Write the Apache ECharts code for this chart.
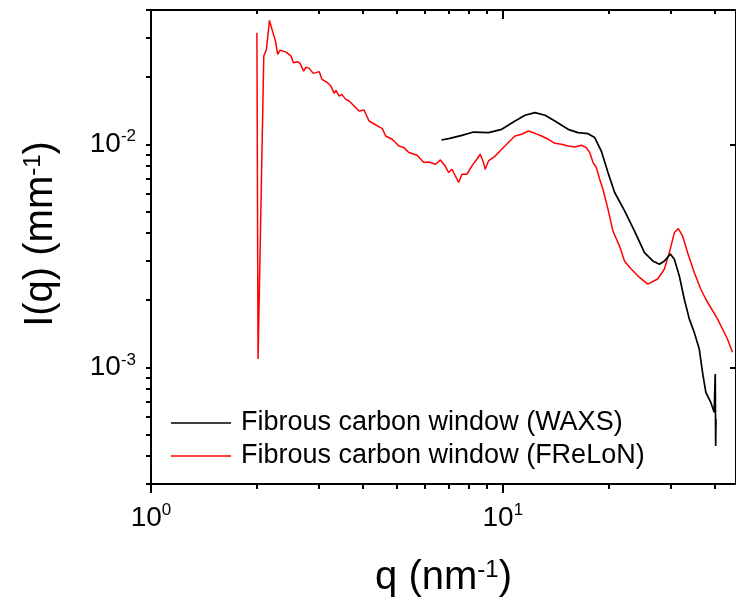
<!DOCTYPE html>
<html>
<head>
<meta charset="utf-8">
<script src="https://cdn.jsdelivr.net/npm/echarts@6/dist/echarts.min.js"></script>
<style>
html,body{margin:0;padding:0;background:#fff;}
#chart{width:736px;height:603px;}
</style>
</head>
<body>
<div id="chart"></div>
<script>
// ---- Data ----
const seriesNames = ['Fibrous carbon window (WAXS)', 'Fibrous carbon window (FReLoN)'];

const qWaxs = [6.692, 7.019, 7.652, 8.257, 9.105, 9.929, 10.83, 11.56, 12.34, 13.18, 14.06, 15.33, 16.36, 17.47, 18.25, 19.05, 19.90, 20.79, 22.19, 23.68, 25.27, 26.68, 27.87, 28.79, 29.93, 30.73, 31.74, 32.80, 33.88, 35.00, 36.17, 36.95, 37.76, 39.00, 39.87, 40.16, 40.27, 40.35];
const iWaxs = [0.01045, 0.01060, 0.01097, 0.01135, 0.01128, 0.01167, 0.01272, 0.01349, 0.01387, 0.01349, 0.01272, 0.01167, 0.01128, 0.01116, 0.01072, 0.00933, 0.00747, 0.00608, 0.00503, 0.00408, 0.00327, 0.00300, 0.00290, 0.00300, 0.00322, 0.00305, 0.00257, 0.00202, 0.00165, 0.001435, 0.001208, 0.000950, 0.000773, 0.000697, 0.000629, 0.000933, 0.000444, 0.000587];

const qFrelon = [2.000, 2.015, 2.092, 2.129, 2.171, 2.229, 2.258, 2.292, 2.328, 2.421, 2.501, 2.539, 2.611, 2.652, 2.716, 2.758, 2.818, 2.892, 3.008, 3.061, 3.175, 3.246, 3.317, 3.354, 3.426, 3.487, 3.579, 3.657, 3.903, 4.032, 4.166, 4.544, 4.645, 4.850, 5.065, 5.233, 5.407, 5.705, 5.962, 6.160, 6.435, 6.649, 6.869, 7.019, 7.170, 7.490, 7.652, 7.906, 8.166, 8.436, 8.625, 8.812, 8.910, 9.105, 9.511, 9.929, 10.37, 10.83, 11.31, 11.82, 12.34, 12.89, 13.46, 14.06, 14.68, 15.33, 16.02, 16.72, 17.28, 17.66, 18.05, 18.44, 18.85, 19.26, 19.90, 20.56, 21.47, 22.19, 23.16, 24.46, 25.82, 27.56, 28.79, 29.74, 30.73, 31.54, 32.43, 33.50, 35.00, 36.54, 37.76, 40.75, 43.49, 44.94];
const iFrelon = [0.03164, 0.001089, 0.02486, 0.02663, 0.03591, 0.03109, 0.02902, 0.02529, 0.02644, 0.02590, 0.02486, 0.02322, 0.02346, 0.02305, 0.02129, 0.02219, 0.02190, 0.02080, 0.02117, 0.01955, 0.01889, 0.01824, 0.01692, 0.01745, 0.01645, 0.01674, 0.01590, 0.01563, 0.01409, 0.01424, 0.01272, 0.01176, 0.01089, 0.01053, 0.00983, 0.00966, 0.00918, 0.00893, 0.00828, 0.00833, 0.00814, 0.00851, 0.00795, 0.00747, 0.00773, 0.00674, 0.00734, 0.00734, 0.00800, 0.00857, 0.00902, 0.00828, 0.00773, 0.00842, 0.00886, 0.00950, 0.01018, 0.01089, 0.01109, 0.01147, 0.01120, 0.01089, 0.01053, 0.01010, 0.01000, 0.00983, 0.00972, 0.00990, 0.00966, 0.00918, 0.00828, 0.00787, 0.00697, 0.00629, 0.00512, 0.00408, 0.00349, 0.00299, 0.00276, 0.00253, 0.00236, 0.00249, 0.00276, 0.00327, 0.00402, 0.00419, 0.00388, 0.00327, 0.00266, 0.00224, 0.00202, 0.00165, 0.00134, 0.00117];

const xMajorTicks = [1, 10];
const xMinorTicks = [2, 3, 4, 5, 6, 7, 8, 9, 20, 30, 40];
const yMajorTicks = [0.001, 0.01];
const yAllTicks = [0.0003, 0.0004, 0.0005, 0.0006, 0.0007, 0.0008, 0.0009, 0.001,
  0.002, 0.003, 0.004, 0.005, 0.006, 0.007, 0.008, 0.009, 0.01, 0.02, 0.03, 0.04];

const xRange = [1, 46];
const yRange = [0.0003, 0.04];

// ---- Chart ----
const FONT = '"Liberation Sans", Arial, Helvetica, sans-serif';
const pairs = (xs, ys) => xs.map((x, i) => [x, ys[i]]);
const powLabel = v => '{b|10}{s|' + Math.round(Math.log10(v)) + '}';
const tickRich = {
  b: {fontSize: 28, fontFamily: FONT, color: '#000', lineHeight: 32},
  s: {fontSize: 17, fontFamily: FONT, color: '#000', verticalAlign: 'top', lineHeight: 17}
};
const axisLineStyle = {color: '#000', width: 2};

const chart = echarts.init(document.getElementById('chart'), null, {renderer: 'canvas'});

function xAx(extra) {
  return Object.assign({
    type: 'log', logBase: 10, min: xRange[0], max: xRange[1],
    splitLine: {show: false}, minorTick: {show: false}, minorSplitLine: {show: false},
    axisLabel: {show: false}, axisLine: {show: false}
  }, extra);
}
function yAx(extra) {
  return Object.assign({
    type: 'log', logBase: 10, min: yRange[0], max: yRange[1],
    splitLine: {show: false}, minorTick: {show: false}, minorSplitLine: {show: false},
    axisLabel: {show: false}, axisLine: {show: false}
  }, extra);
}

chart.setOption({
  backgroundColor: '#fff',
  animation: false,
  grid: {left: 151, top: 10, width: 587.6, height: 475, containLabel: false},
  legend: {
    orient: 'vertical', left: 171, top: 408, padding: 0,
    icon: 'rect', itemWidth: 60, itemHeight: 1.6, itemGap: 3,
    data: seriesNames,
    formatter: n => '{a|' + n + '}',
    textStyle: {
      fontFamily: FONT, fontSize: 27, color: '#000', lineHeight: 30,
      rich: {a: {fontFamily: FONT, fontSize: 27, color: '#000', padding: [0, 0, 0, 5], lineHeight: 30}}
    }
  },
  xAxis: [
    xAx({
      position: 'bottom',
      axisLine: {show: true, onZero: false, lineStyle: axisLineStyle},
      axisTick: {show: true, inside: false, length: 9, lineStyle: {color: '#000', width: 2}, customValues: xMajorTicks},
      axisLabel: {show: true, customValues: xMajorTicks, formatter: powLabel, rich: tickRich, margin: 18},
      name: 'q (nm{s|-1})', nameLocation: 'middle', nameGap: 74,
      nameTextStyle: {fontFamily: FONT, fontSize: 40, color: '#000',
        rich: {s: {fontFamily: FONT, fontSize: 24, color: '#000', verticalAlign: 'top', lineHeight: 22}}}
    }),
    xAx({position: 'bottom',
      axisTick: {show: true, inside: false, length: 5, lineStyle: {color: '#000', width: 2}, customValues: xMinorTicks}}),
    xAx({position: 'top',
      axisLine: {show: true, onZero: false, lineStyle: axisLineStyle},
      axisTick: {show: true, inside: true, length: 9, lineStyle: {color: '#000', width: 2}, customValues: xMajorTicks}}),
    xAx({position: 'top',
      axisTick: {show: true, inside: true, length: 4, lineStyle: {color: '#000', width: 2}, customValues: xMinorTicks}})
  ],
  yAxis: [
    yAx({
      position: 'left',
      axisLine: {show: true, onZero: false, lineStyle: axisLineStyle},
      axisTick: {show: true, inside: false, length: 5, lineStyle: {color: '#000', width: 2}, customValues: yAllTicks},
      axisLabel: {show: true, customValues: yMajorTicks, formatter: powLabel, rich: tickRich, margin: 15},
      name: 'I(q) (mm{s|-1})', nameLocation: 'middle', nameGap: 90, nameRotate: 90,
      nameTextStyle: {fontFamily: FONT, fontSize: 40, color: '#000', padding: [0, 0, 0, 26],
        rich: {s: {fontFamily: FONT, fontSize: 24, color: '#000', verticalAlign: 'top', lineHeight: 22}}}
    }),
    yAx({position: 'right',
      axisLine: {show: true, onZero: false, lineStyle: axisLineStyle},
      axisTick: {show: true, inside: true, length: 6, lineStyle: {color: '#000', width: 2}, customValues: yMajorTicks}})
  ],
  series: [
    {
      name: seriesNames[0], type: 'line', xAxisIndex: 0, yAxisIndex: 0,
      data: pairs(qWaxs, iWaxs), showSymbol: false, symbol: 'none', smooth: false,
      lineStyle: {color: '#000', width: 1.7}, itemStyle: {color: '#000'}, z: 3
    },
    {
      name: seriesNames[1], type: 'line', xAxisIndex: 0, yAxisIndex: 0,
      data: pairs(qFrelon, iFrelon), showSymbol: false, symbol: 'none', smooth: false,
      lineStyle: {color: '#ff0000', width: 1.5}, itemStyle: {color: '#ff0000'}, z: 2
    }
  ]
});
</script>
</body>
</html>
